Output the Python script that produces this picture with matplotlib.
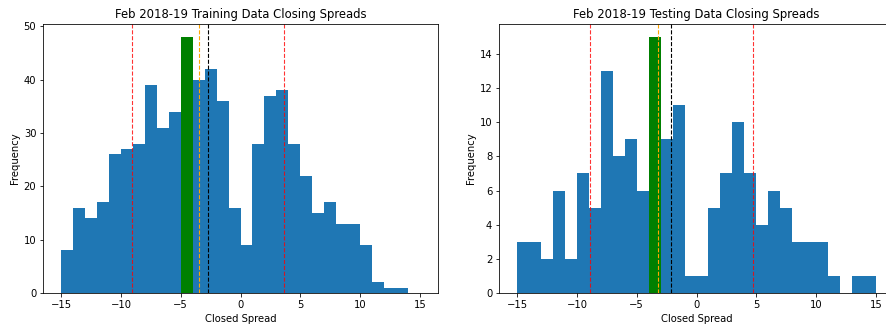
import numpy as np
import matplotlib
matplotlib.use("Agg")
import matplotlib.pyplot as plt

bin_edges = list(range(-15, 16))

train_counts = [8, 16, 14, 17, 26, 27, 28, 39, 31, 34, 48, 40, 42, 36, 16,
                9, 28, 37, 38, 28, 22, 15, 17, 13, 13, 9, 2, 1, 1, 0]
test_counts = [3, 3, 2, 6, 2, 7, 5, 13, 8, 9, 6, 15, 9, 11, 1,
               1, 5, 7, 10, 7, 4, 6, 5, 3, 3, 3, 1, 0, 1, 1]

train_highlight_bin = -5
test_highlight_bin = -4

train_mean = -2.72
train_std = 6.33
train_median = -3.46
test_mean = -2.10
test_std = 6.85
test_median = -3.19

titles = ["Feb 2018-19 Training Data Closing Spreads",
          "Feb 2018-19 Testing Data Closing Spreads"]

s = 0.72
plt.rcParams.update({
    "font.size": 10 * s,
    "axes.titlesize": 8.4,
    "axes.labelsize": 10 * s,
    "xtick.labelsize": 10 * s,
    "ytick.labelsize": 10 * s,
    "axes.linewidth": 0.8 * s,
    "xtick.major.width": 0.8 * s,
    "ytick.major.width": 0.8 * s,
    "xtick.major.size": 3.5 * s,
    "ytick.major.size": 3.5 * s,
    "xtick.major.pad": 3.5 * s,
    "ytick.major.pad": 3.5 * s,
})

fig = plt.figure(figsize=(8.86, 3.26), dpi=100)
ax1 = fig.add_axes([43.3 / 886, 33 / 326, 394.4 / 886, 269 / 326])
ax2 = fig.add_axes([499.3 / 886, 33 / 326, 394.4 / 886, 269 / 326])

datasets = [
    (ax1, train_counts, train_highlight_bin, train_mean, train_std, train_median, titles[0]),
    (ax2, test_counts, test_highlight_bin, test_mean, test_std, test_median, titles[1]),
]

edges = np.array(bin_edges)
centers = (edges[:-1] + edges[1:]) / 2

for ax, counts, hl, mean, std, med, title in datasets:
    n, bins, patches = ax.hist(centers, bins=edges, weights=counts, color="#1f77b4")
    idx = list(edges[:-1]).index(hl)
    patches[idx].set_facecolor("green")
    lw = 0.8
    ax.axvline(mean - std, color="red", linestyle="--", linewidth=lw, alpha=0.8)
    ax.axvline(mean + std, color="red", linestyle="--", linewidth=lw, alpha=0.8)
    ax.axvline(med, color="orange", linestyle="--", linewidth=lw)
    ax.axvline(mean, color="black", linestyle="--", linewidth=lw)
    ax.set_title(title, pad=6 * s)
    ax.set_xlabel("Closed Spread", labelpad=4 * s)
    ax.set_ylabel("Frequency", labelpad=4 * s)

fig.savefig("out.png", dpi=100)
